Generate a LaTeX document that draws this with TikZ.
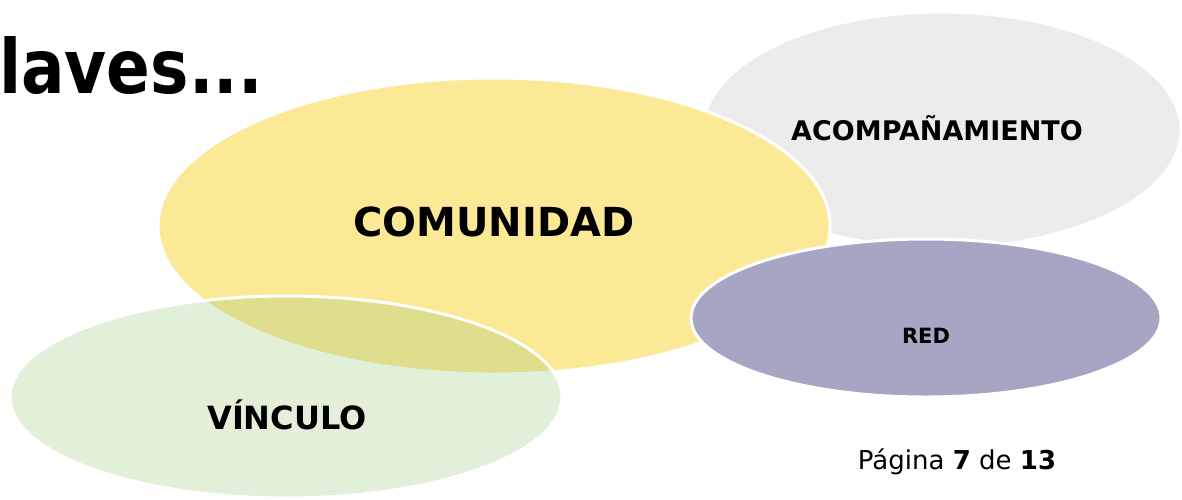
\documentclass[tikz,border=0pt]{standalone}
\usepackage{graphicx}
\usepackage{fontspec}
\setmainfont{DejaVu Sans}
\usetikzlibrary{shapes.geometric}
\definecolor{cgray}{RGB}{236,236,236}
\definecolor{cyellow}{RGB}{251,233,150}
\definecolor{cgreen}{RGB}{148,196,115}
\definecolor{cpurple}{RGB}{166,165,196}
\tikzset{
  blob/.style={ellipse, inner sep=0pt, draw=white, line width=3pt},
  lbl/.style={inner sep=0pt, font=\bfseries, text=black},
}
\begin{document}
\begin{tikzpicture}[x=1pt,y=-1pt]
\useasboundingbox (0,0) rectangle (1182,499);
\fill[white] (0,0) rectangle (1182,499);
\node[blob, fill=cgray, minimum width=478pt, minimum height=236pt] (acomp) at (942,130) {};
\node[blob, fill=cyellow, minimum width=672pt, minimum height=296pt] (comu) at (494,226) {};
\node[blob, fill=cgreen, fill opacity=0.27, minimum width=552pt, minimum height=202pt] (vinc) at (286,397) {};
\node[blob, fill=cpurple, minimum width=470pt, minimum height=158pt] (red) at (926,318) {};
\node[lbl, anchor=base west, font=\bfseries\fontsize{75}{75}\selectfont] (title) at (-1,93) {\scalebox{0.86}[1]{laves...}};
\node[lbl, font=\bfseries\fontsize{40}{40}\selectfont] (tcomu) at (494,222) {COMUNIDAD};
\node[lbl, font=\bfseries\fontsize{27}{27}\selectfont] (tacomp) at (937,128) {ACOMPAÑAMIENTO};
\node[lbl, font=\bfseries\fontsize{21}{21}\selectfont] (tred) at (926,336) {RED};
\node[lbl, font=\bfseries\fontsize{32}{32}\selectfont] (tvinc) at (287,415) {VÍNCULO};
\node[inner sep=0pt, font=\fontsize{26}{26}\selectfont] (page) at (957,462) {Página \textbf{7} de \textbf{13}};
\end{tikzpicture}
\end{document}
